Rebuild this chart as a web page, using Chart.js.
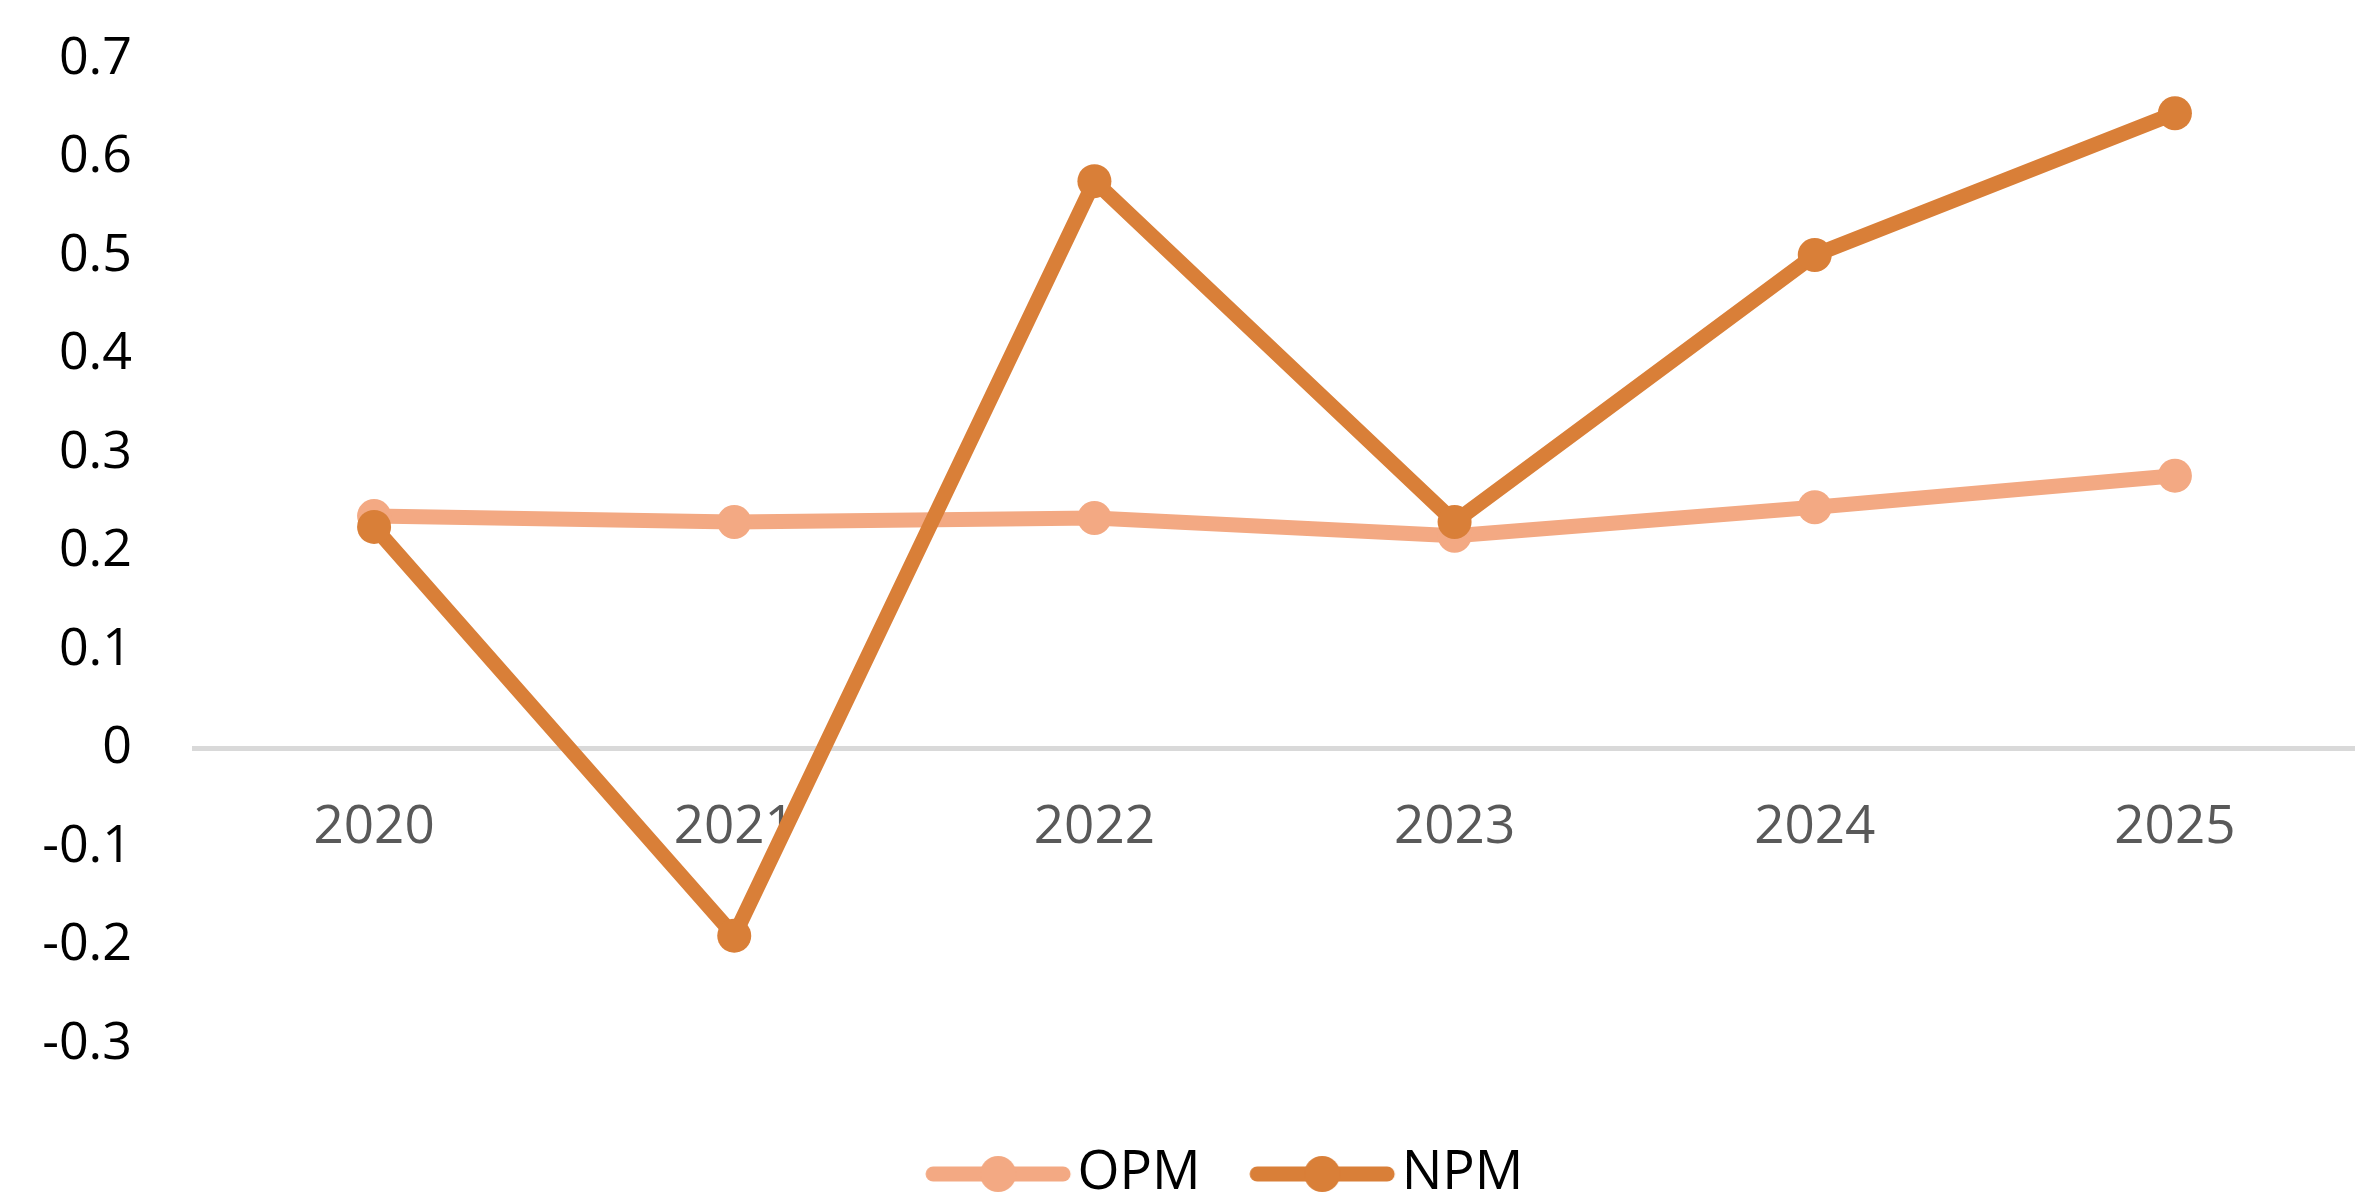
<!DOCTYPE html>
<html>
<head>
<meta charset="utf-8">
<script src="https://cdn.jsdelivr.net/npm/chart.js@4.4.0/dist/chart.umd.min.js"></script>
<style>
  html, body { margin: 0; padding: 0; background: #fff; overflow: hidden; }
  canvas { display: block; }
</style>
</head>
<body>
<canvas id="line-chart-margen" width="2355" height="1211"></canvas>
<script>
var anios = ["2020", "2021", "2022", "2023", "2024", "2025"];
var datosOpm = [0.236, 0.230, 0.234, 0.216, 0.245, 0.277];
var datosNpm = [0.225, -0.190, 0.576, 0.230, 0.501, 0.645];
var ticksY = [-0.3, -0.2, -0.1, 0, 0.1, 0.2, 0.3, 0.4, 0.5, 0.6, 0.7];

var colorOpm = "#f3a983";
var colorNpm = "#d97f38";

Chart.defaults.font.family = "'Open Sans', sans-serif";

// icono de la leyenda: linea con el punto al centro
function iconoLeyenda(color){
    var c = document.createElement("canvas");
    c.width = 150;
    c.height = 40;
    var g = c.getContext("2d");
    g.strokeStyle = color;
    g.lineWidth = 15;
    g.lineCap = "round";
    g.beginPath();
    g.moveTo(10, 20);
    g.lineTo(140, 20);
    g.stroke();
    g.fillStyle = color;
    g.beginPath();
    g.arc(75, 20, 18, 0, Math.PI * 2);
    g.fill();
    return c;
}

var iconos = [iconoLeyenda(colorOpm), iconoLeyenda(colorNpm)];

// corre la leyenda un poco a la derecha
var moverLeyenda = {
    id: "moverLeyenda",
    afterLayout: function(chart){
        if (chart.legend) {
            chart.legend.left = 114;
        }
    }
};

function serie(titulo, datos, color, orden){
    return {
        label: titulo,
        data: datos,
        borderColor: color,
        backgroundColor: color,
        pointBackgroundColor: color,
        pointBorderWidth: 0,
        pointRadius: 17,
        borderWidth: 15,
        borderJoinStyle: "round",
        fill: false,
        order: orden
    };
}

var ctx = document.getElementById("line-chart-margen");

new Chart(ctx, {
    type: 'line',
    data: {
        labels: anios,
        datasets: [
            serie("OPM", datosOpm, colorOpm, 2),
            serie("NPM", datosNpm, colorNpm, 1)
        ]
    },
    plugins: [moverLeyenda],
    options: {
        responsive: false,
        animation: false,
        devicePixelRatio: 1,
        layout: {
            autoPadding: false,
            padding: { left: 0, top: 59, right: 0, bottom: 0 }
        },
        scales: {
            x: {
                offset: true,
                position: { y: 0 },
                grid: { display: false, drawTicks: false },
                border: { display: true, color: "#d9d9d9", width: 5 },
                ticks: { color: "#595959", font: { size: 53 }, padding: 48 }
            },
            y: {
                min: -0.3,
                max: 0.7,
                grid: { display: false, drawTicks: false },
                border: { display: false },
                ticks: {
                    color: "#000",
                    font: { size: 52 },
                    padding: 62,
                    callback: function(valor){ return String(valor); }
                },
                afterBuildTicks: function(escala){
                    escala.ticks = ticksY.map(function(v){ return { value: v }; });
                },
                afterFit: function(escala){
                    escala.width = 194;
                    escala.paddingTop = 0;
                    escala.paddingBottom = 0;
                }
            }
        },
        plugins: {
            tooltip: { enabled: false },
            legend: {
                position: 'bottom',
                title: { display: true, text: "", font: { size: 10 }, padding: { top: 22, bottom: 0 } },
                labels: {
                    usePointStyle: true,
                    pointStyleWidth: 105,
                    padding: 69,
                    color: "#000",
                    font: { size: 54 },
                    generateLabels: function(chart){
                        return chart.data.datasets.map(function(ds, i){
                            return {
                                text: ds.label,
                                pointStyle: iconos[i],
                                datasetIndex: i,
                                hidden: false,
                                lineWidth: 0,
                                fontColor: "#000",
                                fillStyle: ds.borderColor,
                                strokeStyle: ds.borderColor
                            };
                        });
                    }
                }
            }
        }
    }
});
</script>
</body>
</html>
